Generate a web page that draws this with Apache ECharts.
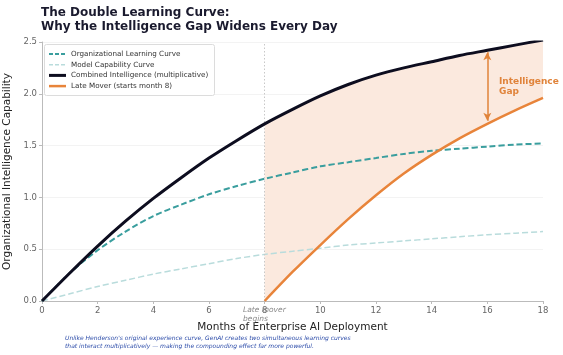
<!DOCTYPE html>
<html><head><meta charset="utf-8">
<script src="https://cdn.jsdelivr.net/npm/echarts@6/dist/echarts.min.js"></script>
<style>html,body{margin:0;padding:0;background:#fff}#c{width:563px;height:355px}</style>
</head><body><div id="c"></div>
<script>
const months = [0,1,2,3,4,5,6,7,8,9,10,11,12,13,14,15,16,17,18];
const orgLearning = [0,0.27,0.49,0.67,0.82,0.93,1.03,1.11,1.18,1.24,1.30,1.34,1.38,1.42,1.45,1.47,1.49,1.51,1.52];
const modelCapability = [0,0.07,0.14,0.20,0.26,0.31,0.36,0.41,0.45,0.48,0.51,0.54,0.56,0.58,0.60,0.62,0.64,0.655,0.67];
const combined = [0,0.27,0.53,0.77,0.99,1.19,1.38,1.55,1.71,1.85,1.98,2.09,2.18,2.25,2.31,2.37,2.42,2.47,2.52];
const lateMonths = [8,9,10,11,12,13,14,15,16,17,18];
const lateMover = [0,0.28,0.54,0.79,1.02,1.23,1.41,1.57,1.71,1.84,1.96];
const seriesNames = ['Organizational Learning Curve','Model Capability Curve','Combined Intelligence (multiplicative)','Late Mover (starts month 8)'];

const pair = (xs, ys) => xs.map((x, i) => [x, ys[i]]);
const combinedAtLate = lateMonths.map(m => combined[months.indexOf(m)]);

const font = 'DejaVu Sans';
const C = {org: '#3a9e9e', model: '#b9dcdc', comb: '#0d0d1f', late: '#e8843a', fill: '#fbe9de'};

const legendStyles = [
  {stroke: C.org, lineWidth: 2, lineDash: [4, 2]},
  {stroke: C.model, lineWidth: 1.5, lineDash: [4, 2]},
  {stroke: C.comb, lineWidth: 3},
  {stroke: C.late, lineWidth: 2.5}
];
const legendGraphics = [{type: 'rect', left: 44, top: 44, z: 100,
  shape: {width: 170, height: 51, r: 2}, style: {fill: '#fff', stroke: '#dcdcdc', lineWidth: 1}}];
seriesNames.forEach((n, i) => {
  const y = 54 + i * 10.7;
  legendGraphics.push({type: 'line', z: 101, shape: {x1: 49, y1: y, x2: 66, y2: y}, style: legendStyles[i]});
  legendGraphics.push({type: 'text', z: 101, x: 71, y: y,
    style: {text: n, fill: '#333', font: '7.2px DejaVu Sans', verticalAlign: 'middle'}});
});

const chart = echarts.init(document.getElementById('c'));
chart.setOption({
  animation: false,
  backgroundColor: '#fff',
  textStyle: {fontFamily: font},
  title: {
    text: 'The Double Learning Curve:\nWhy the Intelligence Gap Widens Every Day',
    left: 36, top: 1,
    textStyle: {fontFamily: font, fontSize: 12, fontWeight: 'bold', color: '#1a1a2e', lineHeight: 14}
  },
  grid: {left: 42, right: 20, top: 42, bottom: 54, outerBoundsMode: 'none', containLabel: false},
  xAxis: {
    type: 'value', min: 0, max: 18, interval: 2,
    name: 'Months of Enterprise AI Deployment', nameLocation: 'middle', nameGap: 21,
    nameTextStyle: {fontFamily: font, fontSize: 10.5, color: '#222'},
    axisLine: {lineStyle: {color: '#bbb'}},
    axisTick: {show: true, length: 3, lineStyle: {color: '#bbb'}},
    axisLabel: {fontFamily: font, fontSize: 8.5, color: '#666', margin: 5},
    splitLine: {show: false}
  },
  yAxis: {
    type: 'value', min: 0, max: 2.5, interval: 0.5,
    name: 'Organizational Intelligence Capability', nameLocation: 'middle', nameGap: 26,
    nameTextStyle: {fontFamily: font, fontSize: 10.5, color: '#222'},
    axisLine: {show: true, lineStyle: {color: '#bbb'}},
    axisTick: {show: true, length: 3, lineStyle: {color: '#bbb'}},
    axisLabel: {fontFamily: font, fontSize: 8.5, color: '#666', margin: 5,
      formatter: v => v.toFixed(1)},
    splitLine: {show: true, lineStyle: {color: '#f0f0f0', width: 0.8}}
  },
  graphic: legendGraphics.concat([
    {type: 'text', left: 243, top: 306, z: 100,
      style: {text: 'Late mover\nbegins', fill: '#888', font: 'italic 7.5px DejaVu Sans', align: 'center', lineHeight: 9, x: 21}},
    {type: 'text', left: 499, top: 77, z: 100,
      style: {text: 'Intelligence\nGap', fill: '#e0833a', font: 'bold 9px DejaVu Sans', lineHeight: 10}},
    {type: 'text', left: 65, top: 334, z: 100,
      style: {text: "Unlike Henderson's original experience curve, GenAI creates two simultaneous learning curves\nthat interact multiplicatively \u2014 making the compounding effect far more powerful.",
        fill: '#2a4aa8', font: 'italic 6px DejaVu Sans', lineHeight: 8.5}}
  ]),
  series: [
    {name: 'gapfill', type: 'custom', clip: true, silent: true, z: 1,
      data: [[lateMonths[0], lateMover[0]]],
      renderItem: (params, api) => {
        const top = lateMonths.map((m, i) => api.coord([m, combinedAtLate[i]]));
        const bot = lateMonths.map((m, i) => api.coord([m, lateMover[i]])).reverse();
        return {type: 'polygon', shape: {points: top.concat(bot)}, style: {fill: C.fill}};
      }},
    {name: seriesNames[1], type: 'line', data: pair(months, modelCapability), symbol: 'none', smooth: 0.3,
      lineStyle: {color: C.model, width: 1.5, type: [6, 3]}, itemStyle: {color: C.model}, z: 3},
    {name: seriesNames[0], type: 'line', data: pair(months, orgLearning), symbol: 'none', smooth: 0.3,
      lineStyle: {color: C.org, width: 2, type: [6, 3]}, itemStyle: {color: C.org}, z: 4,
      markLine: {silent: true, symbol: ['none','none'], label: {show: false},
        lineStyle: {color: '#c8c8c8', type: [1.5, 2], width: 1},
        data: [{xAxis: 8}]}},
    {name: seriesNames[2], type: 'line', data: pair(months, combined), symbol: 'none', smooth: 0.3,
      lineStyle: {color: C.comb, width: 3}, itemStyle: {color: C.comb}, z: 5},
    {name: seriesNames[3], type: 'line', data: pair(lateMonths, lateMover), symbol: 'none', smooth: 0.3,
      lineStyle: {color: C.late, width: 2.5}, itemStyle: {color: C.late}, z: 6,
      markLine: {silent: true, symbol: ['arrow','arrow'], symbolSize: [6, 8], label: {show: false},
        lineStyle: {color: '#e0833a', width: 1.5, type: 'solid'},
        data: [[{coord: [16, 2.40]}, {coord: [16, 1.74]}]]}}
  ]
});
</script></body></html>
